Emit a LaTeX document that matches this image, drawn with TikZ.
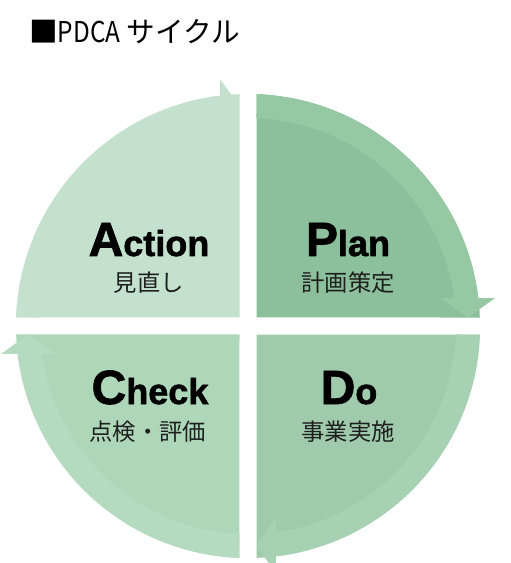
\documentclass[tikz,border=0pt]{standalone}
\usepackage{fontspec}
\usepackage{graphicx}
\setmainfont{Liberation Sans}
\newfontfamily\heavyfont[FakeBold=1.6]{Liberation Sans Bold}
\newfontfamily\jpfont{Noto Sans CJK JP}
\definecolor{pinA}{HTML}{C3E1CD}
\definecolor{bandA}{HTML}{C3E1CD}
\definecolor{pinP}{HTML}{8CBF9B}
\definecolor{bandP}{HTML}{96C8A4}
\definecolor{pinD}{HTML}{9FCBAC}
\definecolor{bandD}{HTML}{A7D1B3}
\definecolor{pinC}{HTML}{AED7BA}
\definecolor{bandC}{HTML}{B4DBBF}
\newcommand\pdcaquad[2]{%
  \fill[#1] (8.5,8.5) -- (87.89:232) arc[start angle=87.89, end angle=2.10, radius=232] -- cycle;
  \fill[#2] (87.89:232) arc[start angle=87.89, end angle=6.93, radius=232]
    -- (247,28) -- (220,8.5) -- (192,28) -- (7.70:208)
    arc[start angle=7.70, end angle=87.66, radius=208] -- cycle;
}
\tikzset{
  bigword/.style={font=\heavyfont\fontsize{27}{27}\selectfont, anchor=base, inner sep=0pt},
  subword/.style={font=\jpfont\fontsize{17.5}{17.5}\selectfont, text=black!88, anchor=base, inner sep=0pt}
}
\newcommand\capl[1]{{\fontsize{36}{36}\selectfont #1}}
\begin{document}
\begin{tikzpicture}[x=0.75pt,y=0.75pt]
% origin at circle centre: X = ximg - 248, Y = 326 - yimg
\useasboundingbox (-248,326) rectangle (262,-237);
\begin{scope}
\clip (-248,326) rectangle (262,-237);
\begin{scope}\pdcaquad{pinP}{bandP}\end{scope}
\begin{scope}[rotate=-90]\pdcaquad{pinD}{bandD}\end{scope}
\begin{scope}[rotate=-180]\pdcaquad{pinC}{bandC}\end{scope}
\begin{scope}[rotate=90]\pdcaquad{pinA}{bandA}\end{scope}
\end{scope}
\node[anchor=base west, inner sep=0pt, font=\jpfont\fontsize{21.5}{21.5}\selectfont] (title)
  at (-219,283) {■\scalebox{0.85}[1]{PDCA} サイクル};
\node[bigword] (action) at (-99,70) {\capl{A}ction};
\node[subword] (actionj) at (-99,34) {見直し};
\node[bigword] (plan) at (100,70) {\capl{P}lan};
\node[subword] (planj) at (100,34) {計画策定};
\node[bigword] (check) at (-98,-78) {\capl{C}heck};
\node[subword] (checkj) at (-100,-114) {点検・評価};
\node[bigword] (do) at (101,-78) {\capl{D}o};
\node[subword] (doj) at (100,-114) {事業実施};
\end{tikzpicture}
\end{document}
